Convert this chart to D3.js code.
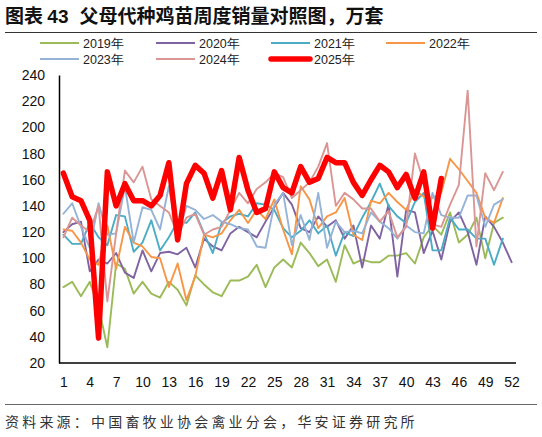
<!DOCTYPE html>
<html>
<head>
<meta charset="utf-8">
<script src="https://cdn.jsdelivr.net/npm/d3@7"></script>
<style>
	body { margin: 0; background: #fff; }
	text { font-family: "Liberation Sans", Arial, sans-serif; }
	.cjk { font-family: "Noto Sans CJK SC", sans-serif; }
</style>
</head>
<body>
<div class="content"></div>
<script>
// weekly sales of parent stock chicks, 10k sets
var weeks = d3.range(1, 53);
var tickWeeks = [1, 4, 7, 10, 13, 16, 19, 22, 25, 28, 31, 34, 37, 40, 43, 46, 49, 52];
var yTicks = [20, 40, 60, 80, 100, 120, 140, 160, 180, 200, 220, 240];
var seriesNames = ["2019年", "2020年", "2021年", "2022年", "2023年", "2024年", "2025年"];

var s2019 = [78, 82, 71, 82, 63, 32, 96, 92, 73, 82, 73, 70, 82, 76, 64, 87, 80, 74, 71, 83,
	83, 86, 95, 78, 93, 99, 93, 112, 104, 94, 99, 82, 110, 96, 99, 97, 97, 102, 102, 104,
	96, 116, 125, 118, 135, 112, 118, 131, 100, 127, 131];
var s2020 = [120, 126, 128, 90, 99, 96, 104, 89, 85, 106, 90, 104, 105, 103, 108, 93, 115, 109, 106, 119,
	124, 120, 116, 128, 139, 150, 141, 123, 120, 132, 124, 129, 115, 125, 93, 125, 115, 141, 86, 137,
	135, 104, 121, 99, 128, 135, 120, 95, 132, 124, 112, 97];
var s2021 = [118, 111, 111, 127, 116, 110, 133, 132, 105, 112, 129, 106, 116, 128, 127, 135, 119, 104, 127, 132,
	134, 132, 142, 141, 137, 123, 116, 121, 129, 119, 125, 102, 120, 117, 131, 143, 157, 140, 132, 127,
	143, 150, 106, 106, 131, 122, 122, 115, 115, 95, 115];
var s2022 = [122, 121, 112, 99, 95, 125, 92, 124, 112, 109, 101, 100, 78, 96, 68, 86, 118, 116, 119, 129,
	137, 127, 137, 130, 145, 122, 103, 155, 145, 123, 132, 135, 146, 118, 114, 144, 142, 150, 143, 137,
	152, 147, 146, 150, 176, 168, 159, 150, 131, 127, 146];
var s2023 = [134, 142, 124, 108, 142, 118, 119, 155, 112, 139, 137, 122, 155, 117, 140, 137, 130, 133, 128, 126,
	123, 122, 109, 108, 141, 150, 110, 133, 114, 150, 108, 128, 120, 121, 119, 135, 128, 123, 115, 125,
	120, 119, 150, 133, 131, 131, 148, 148, 124, 141, 145];
var s2024 = [116, 131, 125, 120, 140, 67, 119, 167, 158, 170, 145, 140, 135, 118, 131, 134, 118, 122, 124, 137,
	150, 142, 153, 158, 165, 162, 146, 152, 158, 170, 188, 140, 150, 145, 138, 138, 128, 136, 116, 124,
	180, 158, 126, 124, 141, 156, 228, 109, 165, 152, 166];
var s2025 = [165, 147, 144, 129, 39, 166, 140, 157, 144, 144, 140, 148, 173, 114, 157, 171, 165, 146, 167, 137,
	177, 152, 135, 138, 166, 154, 150, 170, 158, 161, 177, 173, 173, 158, 148, 160, 171, 166, 154, 164,
	146, 166, 123, 161];

var allSeries = [s2019, s2020, s2021, s2022, s2023, s2024, s2025];
var colors = ["#9bbb59", "#8064a2", "#4bacc6", "#f79646", "#95b3d7", "#d99694", "#ff0000"];
var widths = [1.9, 1.9, 1.9, 1.9, 1.9, 1.9, 5.5];

var W = 542, H = 437;
var plot = { left: 59, right: 516, top: 75, bottom: 363 };

var svg = d3.select(".content")
	.append("svg")
	.attr("width", W)
	.attr("height", H);

var x = d3.scalePoint()
	.domain(weeks)
	.range([plot.left, plot.right])
	.padding(0.5);

var y = d3.scaleLinear()
	.domain([20, 240])
	.range([plot.bottom, plot.top]);

// title
var title = svg.append("text")
	.attr("class", "cjk")
	.attr("x", 5)
	.attr("y", 23)
	.style("font-size", "19px")
	.style("font-weight", "bold")
	.attr("fill", "#111");
title.append("tspan").text("图表 ");
title.append("tspan").style("font-family", "'Liberation Sans', Arial, sans-serif").text("43");
title.append("tspan").attr("dx", 11).text("父母代种鸡苗周度销量对照图，万套");

svg.append("line")
	.attr("x1", 5).attr("x2", 537)
	.attr("y1", 32.5).attr("y2", 32.5)
	.attr("stroke", "#333")
	.attr("stroke-width", 1);

// legend
var legendPos = [[40, 43], [156, 43], [271, 43], [386, 43], [40, 59], [156, 59], [271, 59]];
var legend = svg.append("g");
seriesNames.forEach(function(name, i) {
	var p = legendPos[i];
	legend.append("line")
		.attr("x1", p[0]).attr("x2", p[0] + 39)
		.attr("y1", p[1]).attr("y2", p[1])
		.attr("stroke", colors[i])
		.attr("stroke-width", i == 6 ? 5.5 : 1.9)
		.attr("stroke-linecap", i == 6 ? "round" : "butt");
	legend.append("text")
		.attr("x", p[0] + 43)
		.attr("y", p[1] + 4.5)
		.style("font-size", "12.5px")
		.attr("fill", "#222")
		.text(name);
});

// axes
var yAxis = svg.append("g")
	.attr("transform", "translate(" + plot.left + ",0)")
	.call(d3.axisLeft(y).tickValues(yTicks).tickSize(0).tickPadding(14));
yAxis.select(".domain").attr("stroke", "#000").attr("stroke-width", 1.5);
yAxis.selectAll("text").style("font-size", "14px").attr("fill", "#111");

var xAxis = svg.append("g")
	.attr("transform", "translate(0," + plot.bottom + ")")
	.call(d3.axisBottom(x).tickValues(tickWeeks).tickSize(0).tickPadding(14));
xAxis.select(".domain").attr("stroke", "#000").attr("stroke-width", 1.5)
	.attr("d", "M" + plot.left + ",0H" + plot.right);
xAxis.selectAll("text").style("font-size", "14px").attr("fill", "#111");

// lines
var line = d3.line()
	.x(function(d, i) { return x(weeks[i]); })
	.y(function(d) { return y(d); });

allSeries.forEach(function(s, i) {
	svg.append("path")
		.datum(s)
		.attr("fill", "none")
		.attr("stroke", colors[i])
		.attr("stroke-width", widths[i])
		.attr("stroke-linejoin", "round")
		.attr("stroke-linecap", "round")
		.attr("d", line);
});

// source
svg.append("line")
	.attr("x1", 5).attr("x2", 537)
	.attr("y1", 404.5).attr("y2", 404.5)
	.attr("stroke", "#666")
	.attr("stroke-width", 1);

svg.append("text")
	.attr("class", "cjk")
	.attr("x", 5)
	.attr("y", 427)
	.style("font-size", "14px")
	.style("letter-spacing", "3.2px")
	.attr("fill", "#333")
	.text("资料来源：中国畜牧业协会禽业分会，华安证券研究所");
</script>
</body>
</html>
